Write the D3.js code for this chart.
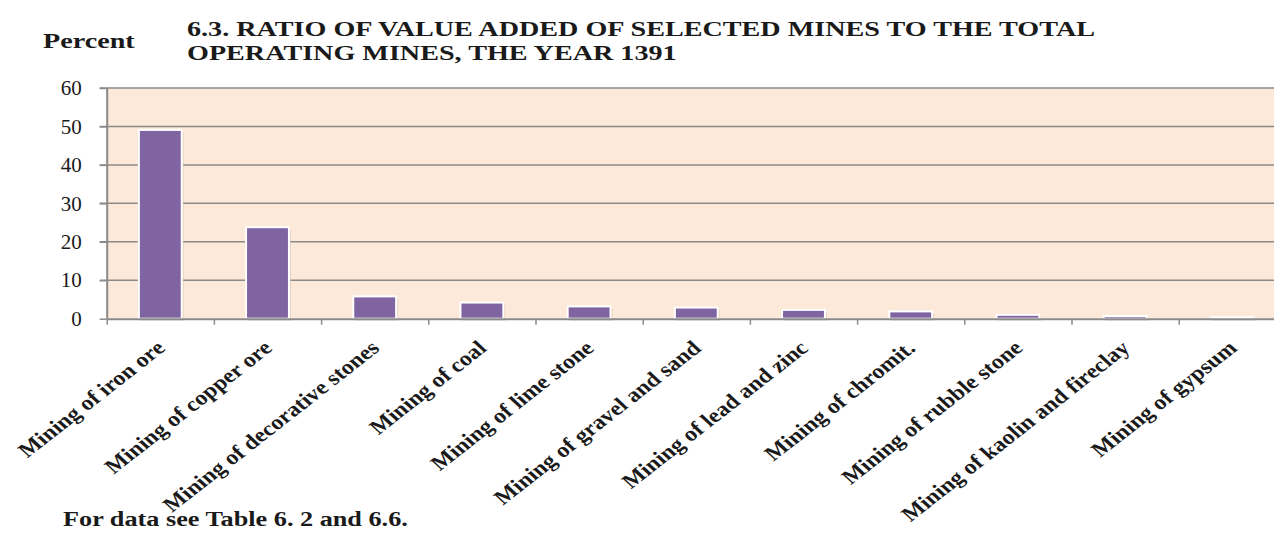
<!DOCTYPE html>
<html>
<head>
<meta charset="utf-8">
<title>6.3 Ratio of value added</title>
<script src="https://d3js.org/d3.v7.min.js"></script>
<style>
  body { margin: 0; background: #fff; }
  svg text { font-family: "Liberation Serif", "Times New Roman", serif; fill: #1a1a1a; }
  .titulo { font-weight: bold; font-size: 22px; }
  .ylab text { font-size: 21px; }
  .xlab { font-weight: bold; font-size: 20.6px; }
</style>
</head>
<body>
<div id="grafico"></div>
<script>
"use strict"

// dados
var categorias = ["Mining of iron ore", "Mining of copper ore", "Mining of decorative stones",
  "Mining of coal", "Mining of lime stone", "Mining of gravel and sand", "Mining of lead and zinc",
  "Mining of chromit.", "Mining of rubble stone", "Mining of kaolin and fireclay", "Mining of gypsum"];
var valores = [49.1, 23.8, 5.8, 4.2, 3.2, 2.9, 2.3, 1.9, 1.0, 0.7, 0.35];
var yTicks = [0, 10, 20, 30, 40, 50, 60];

var larguraSVG = 1274, alturaSVG = 536;
var margin = {top: 88, left: 106.7, bottom: 536 - 318.7};
var passo = 107.2;
var esticar = 1.28; // o texto da figura original esta esticado na horizontal
var larguraVis = passo * categorias.length,
    alturaVis = alturaSVG - margin.top - margin.bottom;

var svg = d3.select("#grafico").append("svg")
  .attr("width", larguraSVG)
  .attr("height", alturaSVG);

var x = d3.scaleBand()
  .domain(categorias)
  .range([0, larguraVis])
  .paddingInner(0.6)
  .paddingOuter(0.3);

var y = d3.scaleLinear()
  .domain([0, 60])
  .range([alturaVis, 0]);

var grafico = svg.append("g")
  .attr("transform", "translate(" + margin.left + "," + margin.top + ")");

// fundo
grafico.append("rect")
  .attr("width", larguraVis).attr("height", alturaVis)
  .attr("fill", "#fde9d9");

// linhas de grade
grafico.selectAll(".grade").data(yTicks.filter(d => d > 0))
  .enter().append("line")
  .attr("x1", -7).attr("x2", larguraVis)
  .attr("y1", d => y(d)).attr("y2", d => y(d))
  .attr("stroke", "#8a8a8a").attr("stroke-width", 1.5);

// sombra das barras
grafico.selectAll(".sombra").data(valores)
  .enter().append("rect")
  .attr("x", (d, i) => x(categorias[i]) + 2)
  .attr("y", d => y(d) + 2)
  .attr("width", x.bandwidth())
  .attr("height", d => alturaVis - y(d))
  .attr("fill", "#d9c3b8").attr("opacity", 0.6);

// barras
grafico.selectAll(".barra").data(valores)
  .enter().append("rect")
  .attr("x", (d, i) => x(categorias[i]))
  .attr("y", d => y(d))
  .attr("width", x.bandwidth())
  .attr("height", d => alturaVis - y(d))
  .attr("fill", "#8064a2")
  .attr("stroke", "#ffffff").attr("stroke-width", 2);

// eixo y
var eixoY = grafico.append("g").attr("class", "ylab")
  .call(d3.axisLeft(y).tickValues(yTicks).tickSize(7).tickPadding(18));
eixoY.selectAll("line").attr("stroke", "#8a8a8a").attr("stroke-width", 1.5);
eixoY.select(".domain").attr("stroke", "#8a8a8a").attr("stroke-width", 2).attr("d", "M0.5,0V" + alturaVis);
eixoY.selectAll("text").attr("fill", "#1a1a1a").attr("font-family", null).attr("font-size", null);

// eixo x (marcas entre categorias)
var xDiv = d3.scaleLinear().domain([0, categorias.length]).range([0, larguraVis]);
var eixoX = grafico.append("g")
  .attr("transform", "translate(0," + alturaVis + ")")
  .call(d3.axisBottom(xDiv).tickValues(d3.range(0, categorias.length + 1)).tickSize(6).tickFormat(""));
eixoX.selectAll("line").attr("stroke", "#8a8a8a").attr("stroke-width", 1.5);
eixoX.select(".domain").attr("stroke", "#8a8a8a").attr("stroke-width", 2).attr("d", "M0,0.5H" + larguraVis);

// rotulos das categorias
grafico.selectAll(".xlab").data(categorias)
  .enter().append("text")
  .attr("class", "xlab")
  .attr("text-anchor", "end")
  .attr("transform", d => "translate(" + (x(d) + x.bandwidth() / 2 + 6) + "," + (alturaVis + 31) + ") scale(1.17,1) rotate(-42.5)")
  .text(d => d);

// textos soltos
function texto(px, py, tam, t) {
  svg.append("text").attr("class", "titulo")
    .attr("transform", "translate(" + px + "," + py + ") scale(" + esticar + ",1)")
    .style("font-size", tam + "px")
    .text(t);
}
texto(187, 36, 22, "6.3. RATIO OF VALUE ADDED OF SELECTED MINES TO THE TOTAL");
texto(187, 60, 22, "OPERATING MINES, THE YEAR 1391");
texto(43, 48, 22, "Percent");
texto(63, 526, 20.5, "For data see Table 6. 2 and 6.6.");
</script>
</body>
</html>
